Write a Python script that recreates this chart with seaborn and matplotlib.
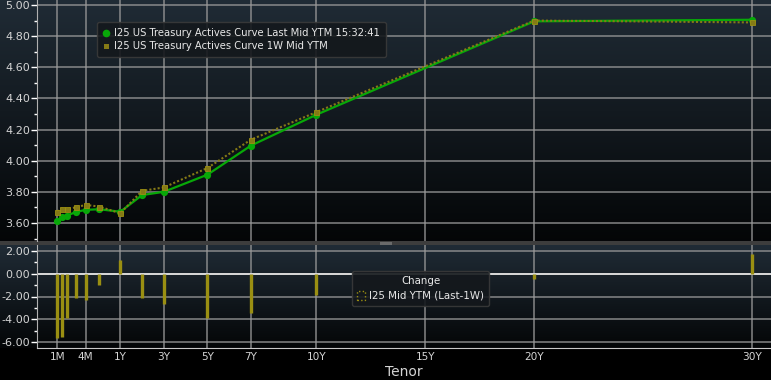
import numpy as np
import matplotlib
matplotlib.use("Agg")
import matplotlib.pyplot as plt
import seaborn as sns
from matplotlib.lines import Line2D
from matplotlib.patches import Patch, Rectangle
from matplotlib.ticker import MultipleLocator, FixedLocator

# ---------------- data ----------------
tenor_months = [1, 1.5, 2, 3, 4, 6, 12, 24, 36, 60, 84, 120, 240, 360]
last_yield = [3.610, 3.637, 3.647, 3.671, 3.684, 3.688, 3.672, 3.779, 3.800,
              3.910, 4.097, 4.295, 4.895, 4.905]
week_yield = [3.673, 3.692, 3.688, 3.701, 3.716, 3.705, 3.662, 3.806, 3.828,
              3.953, 4.135, 4.312, 4.900, 4.888]
change_bp = [-5.6, -5.5, -3.86, -2.12, -2.3, -1.0, 1.18, -2.1, -2.67,
             -3.86, -3.42, -1.89, -0.5, 1.68]
tick_months = [1, 4, 12, 36, 60, 84, 120, 180, 240, 360]
tick_labels = ["1M", "4M", "1Y", "3Y", "5Y", "7Y", "10Y", "15Y", "20Y", "30Y"]
legend_last = "I25 US Treasury Actives Curve Last Mid YTM 15:32:41"
legend_week = "I25 US Treasury Actives Curve 1W Mid YTM"
change_title = "Change"
change_label = "I25 Mid YTM (Last-1W)"
x_title = "Tenor"

years = np.array(tenor_months) / 12.0
tick_years = np.array(tick_months) / 12.0

# ---------------- style ----------------
GREEN = "#08a808"
OLIVE = "#857a16"
BAR = "#9a8f12"
GRID = "#9a9a9a"
TXT = "#d4d4d4"
plt.rcParams["font.family"] = ["DejaVu Sans"]

W, H = 771, 380
fig = plt.figure(figsize=(W / 100, H / 100), dpi=100)
fig.patch.set_facecolor("black")

# background image (panel gradients + separator)
img = np.zeros((H, 1, 3))
top_c = np.array([0.125, 0.17, 0.21])
bot_c = np.array([0.015, 0.022, 0.027])
for r in range(0, 241):
    f = r / 240
    img[r, 0] = top_c * (1 - f) + bot_c * f
img[241:245, 0] = [0.24, 0.24, 0.24]
for r in range(245, 348):
    f = (r - 245) / 103
    img[r, 0] = top_c * (1 - f) + bot_c * f
img[348:, 0] = 0.0
bg = fig.add_axes([0, 0, 1, 1], zorder=-10)
bg.imshow(img, aspect="auto", extent=[0, 1, 0, 1], interpolation="bilinear")
bg.axis("off")
fig.add_artist(Rectangle((380 / W, 1 - 245 / H), 12 / W, 3 / H,
                         transform=fig.transFigure, color="#6a6a6a", lw=0))

# tenor scale (piecewise linear in pixel space)
knot_t = np.array([-1.0, 1 / 12, 4 / 12, 0.5, 1.0, 30.0, 40.0])
knot_p = np.array([57.3 - 113.6 * (1 + 1 / 12), 57.3, 85.7, 99.3, 120.3, 752.0, 752.0 + 217.8])


def fwd(t):
    return np.interp(t, knot_t, knot_p)


def inv(p):
    return np.interp(p, knot_p, knot_t)


L = 37
axL = L / W
axW = (W - L) / W
ax1 = fig.add_axes([axL, 1 - 241 / H, axW, 241 / H])
ax2 = fig.add_axes([axL, 1 - 348 / H, axW, 103 / H])
for ax in (ax1, ax2):
    ax.set_facecolor("none")
    ax.set_xscale("function", functions=(fwd, inv))
    ax.set_xlim(inv(37), inv(771))
    for s in ax.spines.values():
        s.set_visible(False)
    ax.xaxis.set_major_locator(FixedLocator(tick_years))
    ax.xaxis.set_minor_locator(FixedLocator([]))
    ax.grid(True, which="major", color=GRID, lw=1.1, alpha=0.85)
    ax.set_axisbelow(True)
    ax.tick_params(axis="y", which="major", colors="white", labelcolor=TXT,
                   labelsize=8, length=4, width=1, pad=1)
    ax.tick_params(axis="y", which="minor", colors="white", length=2, width=1)
    ax.tick_params(axis="x", length=0)

# ---- top panel ----
sns.lineplot(x=years, y=last_yield, ax=ax1, color=GREEN, lw=1.6, marker="o",
             markersize=5.2, markeredgewidth=0, zorder=3)
sns.lineplot(x=years, y=week_yield, ax=ax1, color=OLIVE, lw=1.5,
             linestyle=(0, (1, 1)), marker="s", markersize=3.6,
             markeredgewidth=0.6, markeredgecolor="#9d8f12", zorder=4)
ax1.set_ylim(3.484, 5.032)
ax1.yaxis.set_major_locator(MultipleLocator(0.2))
ax1.yaxis.set_minor_locator(MultipleLocator(0.1))
ax1.yaxis.set_major_formatter(matplotlib.ticker.FormatStrFormatter("%.2f"))
ax1.set_xticklabels([])
ax1.set_xlabel("")
h1 = [Line2D([], [], ls="none", marker="o", color=GREEN, markersize=5.5, markeredgewidth=0),
      Line2D([], [], ls="none", marker="s", color=OLIVE, markersize=3.6, markeredgewidth=0)]
leg1 = ax1.legend(h1, [legend_last, legend_week], loc="upper left",
                  bbox_to_anchor=((97 - L) / (W - L), 1 - 22 / 241),
                  fontsize=7.2, labelcolor="#e8e8e8", frameon=True, fancybox=True,
                  facecolor="#14181c", edgecolor="#3a3a3a", framealpha=0.9,
                  handlelength=0.6, handletextpad=0.5, borderpad=0.6,
                  labelspacing=0.3, borderaxespad=0)

# ---- bottom panel ----
ax2.vlines(years, 0, change_bp, color=BAR, lw=2.4, zorder=3)
ax2.axhline(0, color="#d8d8d8", lw=1.4, zorder=2)
ax2.set_ylim(-6.5, 2.5)
ax2.yaxis.set_major_locator(MultipleLocator(2))
ax2.yaxis.set_minor_locator(MultipleLocator(1))
ax2.yaxis.set_major_formatter(matplotlib.ticker.FormatStrFormatter("%.2f"))
ax2.set_xticklabels(tick_labels)
ax2.tick_params(axis="x", labelcolor=TXT, labelsize=7.6, pad=3)
ax2.spines["bottom"].set_visible(True)
ax2.spines["bottom"].set_color("#c8c8c8")
ax2.spines["left"].set_visible(True)
ax2.spines["left"].set_color("#b0b0b0")
ax2.set_xlabel(x_title, color=TXT, fontsize=10, labelpad=2)
h2 = [Patch(facecolor="none", edgecolor=BAR, linestyle=":", lw=1)]
leg2 = ax2.legend(h2, [change_label], title=change_title, loc="upper left",
                  bbox_to_anchor=((351.7 - L) / (W - L), (348 - 270.7) / 103),
                  fontsize=7.4, labelcolor="#e8e8e8", frameon=True, fancybox=True,
                  facecolor="#14181c", edgecolor="#3a3a3a", framealpha=0.9,
                  handlelength=0.8, handleheight=0.9, handletextpad=0.4,
                  borderpad=0.5, borderaxespad=0)
leg2.get_title().set_color("#e8e8e8")
leg2.get_title().set_fontsize(7.4)
ax1.spines["left"].set_visible(True)
ax1.spines["left"].set_color("#b0b0b0")

fig.savefig("out.png", dpi=100, facecolor=fig.get_facecolor())
